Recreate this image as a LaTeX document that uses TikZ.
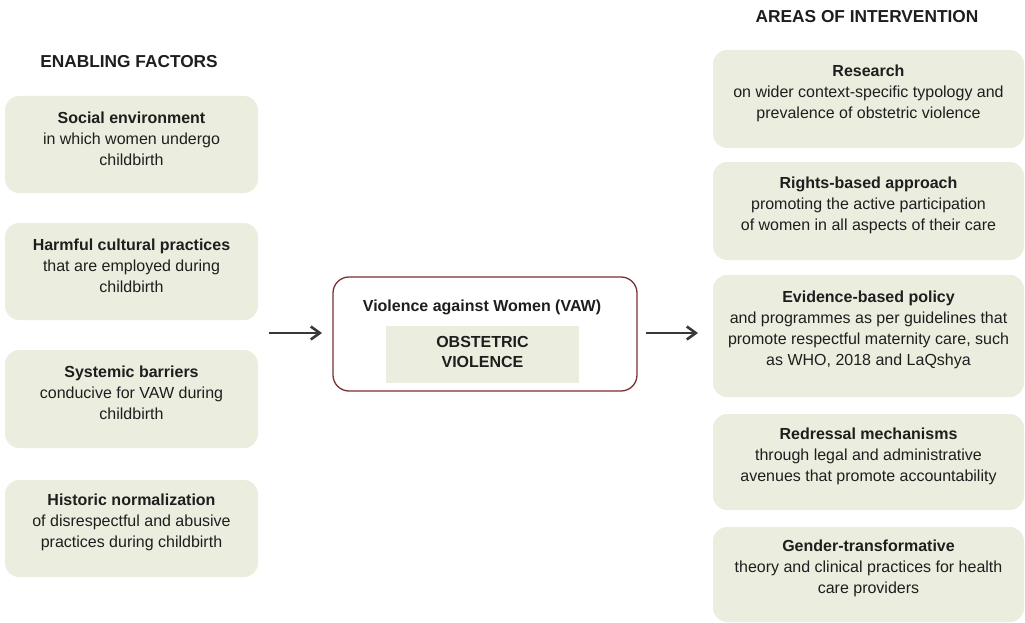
\documentclass[tikz,border=0pt]{standalone}
\usepackage{fontspec}
\setmainfont{Liberation Sans}
\usetikzlibrary{arrows.meta}
\definecolor{boxfill}{HTML}{EBEEDF}
\definecolor{txt}{HTML}{1E1E1E}
\definecolor{vawborder}{HTML}{7A3030}
\definecolor{arr}{HTML}{383838}
\tikzset{
  gtext/.style={align=center, text=txt, font=\fontsize{16}{21}\selectfont},
  head/.style={text=txt, font=\fontsize{17.3}{20}\selectfont\bfseries},
  flow/.style={draw=arr, line width=2.6pt, -{Straight Barb[length=9pt,width=13pt,line width=2.6pt]}}
}
\begin{document}
\begin{tikzpicture}[x=1pt,y=-1pt]
\useasboundingbox (0,0) rectangle (1025,623);
% headings
\node[head] (hl) at (129,62) {ENABLING FACTORS};
\node[head] (hr) at (867,17) {AREAS OF INTERVENTION};
% left boxes
\foreach \n/\ya/\yb in {l1/96/193, l2/223/320, l3/350/448, l4/480/577}{
  \fill[boxfill, rounded corners=14pt] (5,\ya) rectangle (258,\yb);
  \coordinate (\n) at (131.5,{(\ya+\yb)/2-6});
}
\node[gtext] (tl1) at (l1) {\textbf{Social environment}\\in which women undergo\\childbirth};
\node[gtext] (tl2) at (l2) {\textbf{Harmful cultural practices}\\that are employed during\\childbirth};
\node[gtext] (tl3) at (l3) {\textbf{Systemic barriers}\\conducive for VAW during\\childbirth};
\node[gtext] (tl4) at (l4) {\textbf{Historic normalization}\\of disrespectful and abusive\\practices during childbirth};
% right boxes
\foreach \n/\ya/\yb in {r1/50/148, r2/162/260, r3/275/397, r4/414/510, r5/527/622}{
  \fill[boxfill, rounded corners=14pt] (713,\ya) rectangle (1024,\yb);
  \coordinate (\n) at (868.5,{(\ya+\yb)/2-6});
}
\node[gtext] (tr1) at (r1) {\textbf{Research}\\on wider context-specific typology and\\prevalence of obstetric violence};
\node[gtext] (tr2) at (r2) {\textbf{Rights-based approach}\\promoting the active participation\\of women in all aspects of their care};
\node[gtext] (tr3) at (r3) {\textbf{Evidence-based policy}\\and programmes as per guidelines that\\promote respectful maternity care, such\\as WHO, 2018 and LaQshya};
\node[gtext] (tr4) at (r4) {\textbf{Redressal mechanisms}\\through legal and administrative\\avenues that promote accountability};
\node[gtext] (tr5) at (r5) {\textbf{Gender-transformative}\\theory and clinical practices for health\\care providers};
% center
\draw[vawborder, line width=1.3pt, rounded corners=16pt, fill=white] (333,277) rectangle (637,391);
\node[text=txt, font=\fontsize{16}{20}\selectfont\bfseries] (vaw) at (482,307) {Violence against Women (VAW)};
\fill[boxfill] (386,326) rectangle (579,383);
\node[gtext, font=\fontsize{16}{20}\selectfont\bfseries] (ov) at (482.5,352) {OBSTETRIC\\VIOLENCE};
% arrows
\coordinate (a1s) at (269,333);
\coordinate (a1e) at (322,333);
\coordinate (a2s) at (646,333);
\coordinate (a2e) at (698,333);
\draw[flow] (a1s) -- (a1e);
\draw[flow] (a2s) -- (a2e);
\end{tikzpicture}
\end{document}
